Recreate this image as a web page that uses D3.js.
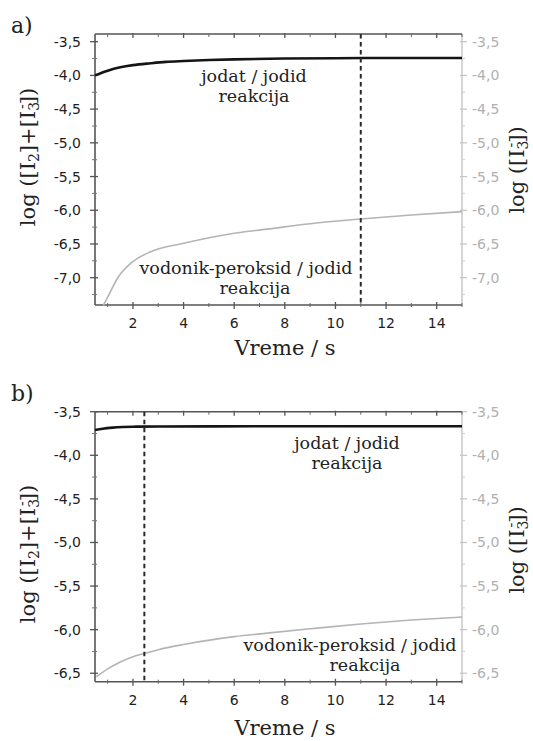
<!DOCTYPE html>
<html>
<head>
<meta charset="utf-8">
<script src="https://cdn.jsdelivr.net/npm/d3@7"></script>
<style>
  html, body { margin: 0; padding: 0; background: #fff; }
  svg { display: block; }
  .tick-l { font-family: "DejaVu Sans", sans-serif; font-size: 14px; fill: #1e1e1e; }
  .tick-r { font-family: "DejaVu Sans", sans-serif; font-size: 14px; fill: #b0b0b0; }
  .serif { font-family: "DejaVu Serif", serif; fill: #222; }
</style>
</head>
<body>
<svg id="chart" width="533" height="741"></svg>
<script>
// Time axis (s)
const xDomain = [0.5, 15];
const xTicks = [2, 4, 6, 8, 10, 12, 14];
const xMinor = [1, 3, 5, 7, 9, 11, 13, 15];

// Panel a) — iodate/iodide reaction (left axis) and H2O2/iodide reaction (right axis)
const aIodateTime = [0.5, 1, 1.5, 2, 2.7, 3.3, 4, 5, 6, 8, 10, 12, 15];
const aIodateLog = [-4.0, -3.93, -3.88, -3.848, -3.82, -3.80, -3.787, -3.772, -3.762, -3.75, -3.745, -3.742, -3.741];
const aPeroxTime = [0.83, 1.0, 1.42, 2, 2.67, 4, 6, 7.3, 9, 11, 13, 15];
const aPeroxLog = [-7.41, -7.29, -6.99, -6.76, -6.62, -6.49, -6.34, -6.28, -6.2, -6.13, -6.07, -6.02];
const aYTicks = [-3.5, -4.0, -4.5, -5.0, -5.5, -6.0, -6.5, -7.0];
const aMarker = 11;

// Panel b)
const bIodateTime = [0.5, 0.8, 1.2, 1.6, 2, 3, 5, 8, 15];
const bIodateLog = [-3.71, -3.695, -3.683, -3.676, -3.672, -3.670, -3.668, -3.667, -3.667];
const bPeroxTime = [0.55, 1, 1.5, 2, 2.5, 3, 4, 6, 7.3, 9, 11, 13, 15];
const bPeroxLog = [-6.54, -6.45, -6.37, -6.31, -6.27, -6.23, -6.17, -6.08, -6.04, -5.99, -5.935, -5.89, -5.855];
const bYTicks = [-3.5, -4.0, -4.5, -5.0, -5.5, -6.0, -6.5];
const bMarker = 2.45;

const locale = d3.formatLocale({decimal: ",", thousands: ".", grouping: [3], currency: ["", ""], minus: "-"});
const fmt = locale.format(".1f");

const svg = d3.select("#chart");
const L = 95, R = 462;
const x = d3.scaleLinear().domain(xDomain).range([L, R]);

const panels = [
  { tag: "a)", tagY: 33, top: 34, bottom: 305, yDomain: [-7.405, -3.386],
    iodT: aIodateTime, iodV: aIodateLog, perT: aPeroxTime, perV: aPeroxLog,
    yTicks: aYTicks, marker: aMarker,
    iodLabel: {x: 254, y: 82}, perLabel: {x: 246, y: 274, x2: 255},
    xLabelY: 355, leftLabelY: 157, rightLabelY: 170 },
  { tag: "b)", tagY: 401, top: 411.7, bottom: 681.7, yDomain: [-6.597, -3.5],
    iodT: bIodateTime, iodV: bIodateLog, perT: bPeroxTime, perV: bPeroxLog,
    yTicks: bYTicks, marker: bMarker,
    iodLabel: {x: 347, y: 449}, perLabel: {x: 350, y: 651, x2: 365},
    xLabelY: 735, leftLabelY: 554, rightLabelY: 550 }
];

panels.forEach(p => {
  const y = d3.scaleLinear().domain(p.yDomain).range([p.bottom, p.top]);
  const g = svg.append("g");

  // panel tag
  g.append("text").attr("class", "serif").attr("x", 11).attr("y", p.tagY)
    .attr("font-size", 22).text(p.tag);

  // minor y ticks every 0.25
  const yMinor = d3.range(-7.25, -3.4, 0.5).filter(v => v > p.yDomain[0] && v < p.yDomain[1]);

  // left axis
  const left = g.append("g");
  left.append("line").attr("x1", L).attr("x2", L).attr("y1", p.top).attr("y2", p.bottom)
    .attr("stroke", "#555").attr("stroke-width", 1.6);
  p.yTicks.forEach(v => {
    left.append("line").attr("x1", L - 5).attr("x2", L + 3).attr("y1", y(v)).attr("y2", y(v))
      .attr("stroke", "#555").attr("stroke-width", 1.3);
    left.append("text").attr("class", "tick-l").attr("x", L - 14).attr("y", y(v) + 5)
      .attr("text-anchor", "end").text(fmt(v));
  });
  yMinor.forEach(v => {
    left.append("line").attr("x1", L - 3).attr("x2", L + 2).attr("y1", y(v)).attr("y2", y(v))
      .attr("stroke", "#777").attr("stroke-width", 1);
  });

  // right axis (light grey)
  const right = g.append("g");
  right.append("line").attr("x1", R).attr("x2", R).attr("y1", p.top).attr("y2", p.bottom)
    .attr("stroke", "#c4c4c4").attr("stroke-width", 1.4);
  p.yTicks.forEach(v => {
    right.append("line").attr("x1", R - 2).attr("x2", R + 5).attr("y1", y(v)).attr("y2", y(v))
      .attr("stroke", "#c4c4c4").attr("stroke-width", 1.2);
    right.append("text").attr("class", "tick-r").attr("x", R + 10).attr("y", y(v) + 5)
      .text(fmt(v));
  });
  yMinor.forEach(v => {
    right.append("line").attr("x1", R).attr("x2", R + 3).attr("y1", y(v)).attr("y2", y(v))
      .attr("stroke", "#d0d0d0").attr("stroke-width", 1);
  });

  // top and bottom axes
  [p.top, p.bottom].forEach((yy, i) => {
    g.append("line").attr("x1", L).attr("x2", R).attr("y1", yy).attr("y2", yy)
      .attr("stroke", "#555").attr("stroke-width", 1.6);
    xTicks.forEach(v => {
      g.append("line").attr("x1", x(v)).attr("x2", x(v))
        .attr("y1", i === 0 ? yy - 1 : yy - 3).attr("y2", yy + 4)
        .attr("stroke", "#555").attr("stroke-width", 1.3);
    });
    xMinor.forEach(v => {
      g.append("line").attr("x1", x(v)).attr("x2", x(v))
        .attr("y1", i === 0 ? yy : yy - 2).attr("y2", i === 0 ? yy + 3 : yy + 2)
        .attr("stroke", "#666").attr("stroke-width", 1);
    });
  });
  xTicks.forEach(v => {
    g.append("text").attr("class", "tick-l").attr("x", x(v)).attr("y", p.bottom + 23)
      .attr("text-anchor", "middle").attr("font-size", 15).text(v);
  });

  // curves
  const line = d3.line().x(d => x(d[0])).y(d => y(d[1])).curve(d3.curveMonotoneX);
  g.append("path").datum(d3.zip(p.perT, p.perV)).attr("d", line)
    .attr("fill", "none").attr("stroke", "#b4b4b4").attr("stroke-width", 1.6);
  g.append("path").datum(d3.zip(p.iodT, p.iodV)).attr("d", line)
    .attr("fill", "none").attr("stroke", "#151515").attr("stroke-width", 2.6);

  // time marker
  g.append("line").attr("x1", x(p.marker)).attr("x2", x(p.marker))
    .attr("y1", p.top).attr("y2", p.bottom)
    .attr("stroke", "#2a2a2a").attr("stroke-width", 2).attr("stroke-dasharray", "4.5,3.5");

  // reaction labels
  const lab = (t, xx, yy) => g.append("text").attr("class", "serif").attr("font-size", 17.5)
    .attr("x", xx).attr("y", yy).attr("text-anchor", "middle").text(t);
  lab("jodat / jodid", p.iodLabel.x, p.iodLabel.y);
  lab("reakcija", p.iodLabel.x, p.iodLabel.y + 20);
  lab("vodonik-peroksid / jodid", p.perLabel.x, p.perLabel.y);
  lab("reakcija", p.perLabel.x2, p.perLabel.y + 20);

  // x axis title
  g.append("text").attr("class", "serif").attr("font-size", 21)
    .attr("x", 285).attr("y", p.xLabelY).attr("text-anchor", "middle").text("Vreme / s");

  // left y title: log([I2]+[I3-])
  const lt = g.append("text").attr("class", "serif").attr("font-size", 21)
    .attr("text-anchor", "middle")
    .attr("transform", `translate(35,${p.leftLabelY}) rotate(-90)`);
  lt.append("tspan").text("log ([I");
  lt.append("tspan").attr("font-size", 14).attr("dy", 4).text("2");
  lt.append("tspan").attr("dy", -4).text("]+[I");
  lt.append("tspan").attr("font-size", 14).attr("dy", 4).text("3");
  lt.append("tspan").attr("font-size", 14).attr("dx", -7).attr("dy", -12).text("-");
  lt.append("tspan").attr("dy", 8).text("])");

  // right y title: log([I3-])
  const rt = g.append("text").attr("class", "serif").attr("font-size", 21)
    .attr("text-anchor", "middle")
    .attr("transform", `translate(524,${p.rightLabelY}) rotate(-90)`);
  rt.append("tspan").text("log ([I");
  rt.append("tspan").attr("font-size", 14).attr("dy", 4).text("3");
  rt.append("tspan").attr("font-size", 14).attr("dx", -7).attr("dy", -12).text("-");
  rt.append("tspan").attr("dy", 8).text("])");
});
</script>
</body>
</html>
